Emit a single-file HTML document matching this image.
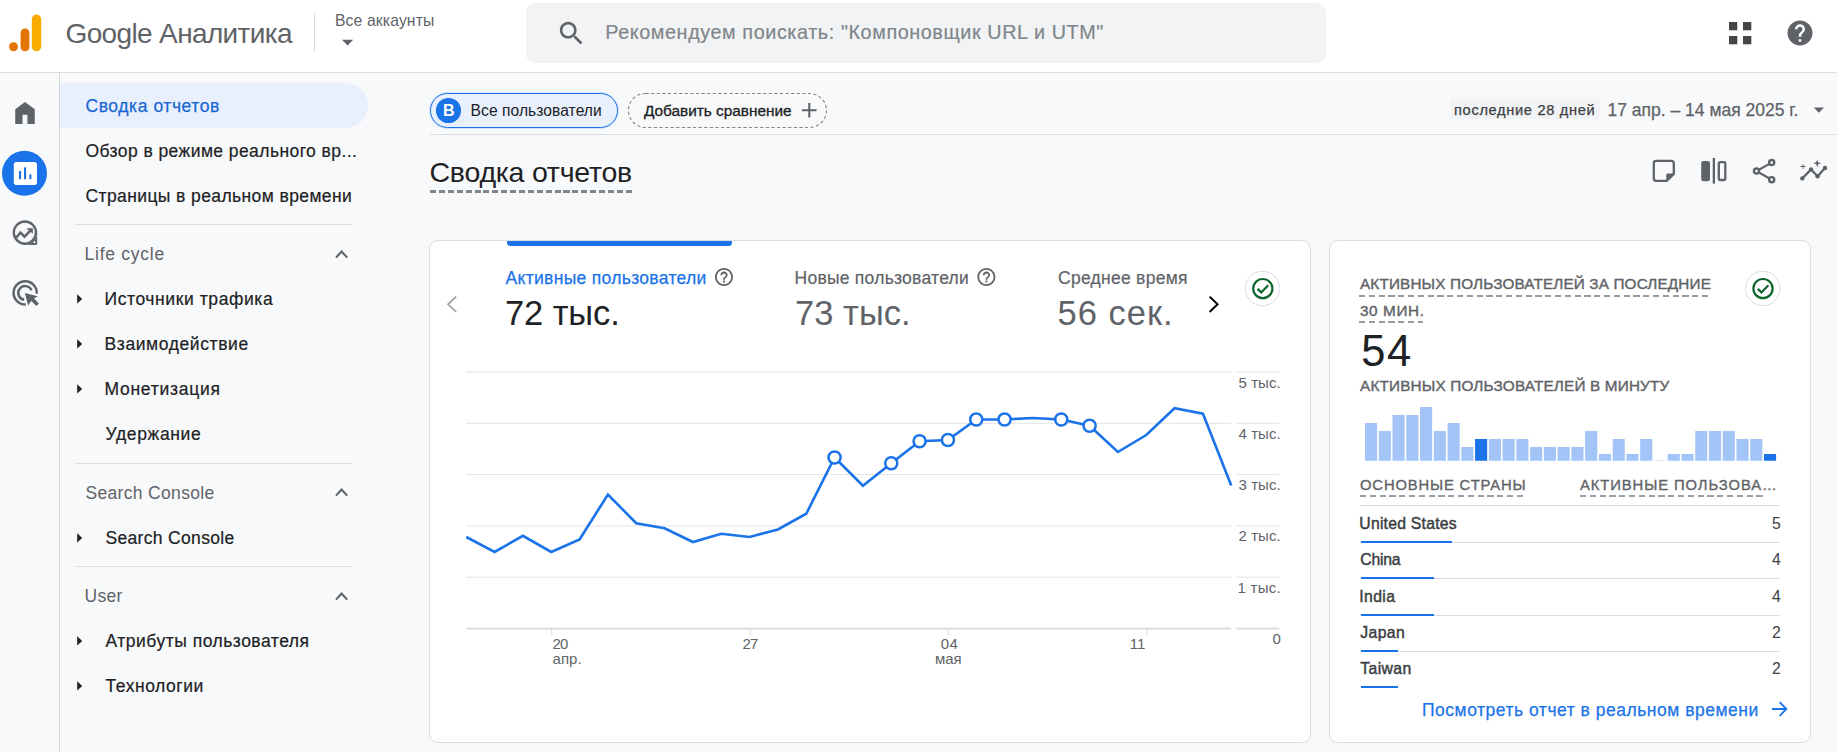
<!DOCTYPE html>
<html lang="ru"><head><meta charset="utf-8"><title>Google Аналитика</title>
<style>
html,body{margin:0;padding:0}
body{width:1837px;height:752px;overflow:hidden;background:#f8f9fa;font-family:"Liberation Sans",sans-serif;position:relative}
.abs{position:absolute}
.t{position:absolute;white-space:pre;line-height:1;font-family:"Liberation Sans",sans-serif}
.card{position:absolute;background:#fff;border:1px solid #dadce0;border-radius:9px;box-sizing:border-box}
.hl{position:absolute;height:1px;background:#dadce0}
.dash{position:absolute;height:0;border-top:1.2px dashed #80868b}
</style></head><body>
<!-- header -->
<div class="abs" style="left:0;top:0;width:1837px;height:72px;background:#fff;border-bottom:1px solid #dadce0"></div>
<!-- logo -->
<svg class="abs" style="left:0;top:0" width="60" height="72" viewBox="0 0 60 72">
<circle cx="13.5" cy="46.8" r="4.5" fill="#e37400"/>
<rect x="20.6" y="28.5" width="8.8" height="22.8" rx="4.4" fill="#e37400"/>
<rect x="31.8" y="14.5" width="9.4" height="36.8" rx="4.7" fill="#f9ab00"/>
</svg>
<div class="abs" style="left:314px;top:13px;width:1px;height:39px;background:#dadce0"></div>
<svg class="abs" style="left:341px;top:39px" width="14" height="8" viewBox="0 0 14 8"><path d="M1 0.8 L12.2 0.8 L6.6 6.4 Z" fill="#5f6368"/></svg>
<!-- search -->
<div class="abs" style="left:526px;top:3px;width:800px;height:60px;background:#f1f3f4;border-radius:9px"></div>
<svg class="abs" style="left:555.6px;top:18.1px" width="30.9" height="30.9" viewBox="0 0 24 24"><path fill="#5f6368" d="M15.5 14h-.79l-.28-.27C15.41 12.59 16 11.11 16 9.5 16 5.91 13.09 3 9.5 3S3 5.91 3 9.5 5.91 16 9.5 16c1.61 0 3.09-.59 4.23-1.57l.27.28v.79l5 4.99L20.49 19l-4.99-5zm-6 0C7.01 14 5 11.99 5 9.5S7.01 5 9.5 5 14 7.01 14 9.5 11.99 14 9.5 14z"/></svg>
<!-- apps + help -->
<svg class="abs" style="left:1729px;top:22px" width="23" height="23" viewBox="0 0 23 23"><g fill="#444746"><rect x="0" y="0" width="8.3" height="8.3"/><rect x="14" y="0" width="8.3" height="8.3"/><rect x="0" y="14" width="8.3" height="8.3"/><rect x="14" y="14" width="8.3" height="8.3"/></g></svg>
<svg class="abs" style="left:1785px;top:18px" width="30" height="30" viewBox="0 0 24 24"><path fill="#5f6368" d="M12 2C6.48 2 2 6.48 2 12s4.48 10 10 10 10-4.48 10-10S17.52 2 12 2zm1 17h-2v-2h2v2zm2.07-7.75l-.9.92C13.45 12.9 13 13.5 13 15h-2v-.5c0-1.1.45-2.1 1.17-2.83l1.24-1.26c.37-.36.59-.86.59-1.41 0-1.1-.9-2-2-2s-2 .9-2 2H8c0-2.21 1.79-4 4-4s4 1.79 4 4c0 .88-.36 1.68-.93 2.25z"/></svg>

<!-- left rail -->
<div class="abs" style="left:59px;top:73px;width:1px;height:679px;background:#d5d6d9"></div>
<svg class="abs" style="left:0;top:73px" width="59" height="679" viewBox="0 73 59 679">
<!-- home -->
<path transform="translate(10.36 98.3) scale(1.22)" fill="#5f6368" d="M4 21V9l8-6 8 6v12h-6v-7.5h-4V21z"/>
<!-- reports active -->
<circle cx="24.5" cy="173.3" r="22.5" fill="#1a73e8"/>
<rect x="13.8" y="161.9" width="23.2" height="23.2" rx="2.8" fill="#fff"/>
<rect x="19" y="171" width="2.1" height="8.2" fill="#1a73e8"/><rect x="24" y="167.4" width="2.1" height="11.8" fill="#1a73e8"/><rect x="29.3" y="174.4" width="2.1" height="4.8" fill="#1a73e8"/>
<!-- explore -->
<circle cx="24.9" cy="232.6" r="11.1" fill="none" stroke="#5f6368" stroke-width="2.4"/>
<path d="M37.2 232.6 L37.2 243.4 Q37.2 244.9 35.7 244.9 L24.9 244.9 A12.3 12.3 0 0 0 37.2 232.6 Z" fill="#5f6368"/>
<circle cx="34.5" cy="242.3" r="1.05" fill="#f8f9fa"/>
<path d="M16.4 237.4 L20.4 232.6 L24.5 236.7 L30.6 230.4" fill="none" stroke="#5f6368" stroke-width="2.4"/>
<path d="M26.3 228.2 L32.9 228.2 L32.9 233.8 Z" fill="#5f6368"/>
<!-- advertising -->
<path d="M36.75 293.6 A11.6 11.6 0 1 0 25.8 304.5" fill="none" stroke="#5f6368" stroke-width="2.4"/>
<path d="M31.55 290.3 A6.9 6.9 0 1 0 24.2 299.75" fill="none" stroke="#5f6368" stroke-width="2.4"/>
<path d="M24.9 292.9 L37.7 296.3 L34 298.5 L38.9 303.4 L36.4 306 L31.3 301 L28.1 305.4 Z" fill="#5f6368"/>
</svg>

<!-- sidebar -->
<div class="abs" style="left:60px;top:83px;width:308px;height:45px;background:#e8f0fe;border-radius:0 22.5px 22.5px 0"></div>
<div class="hl" style="left:75px;top:224px;width:277px"></div>
<div class="hl" style="left:75px;top:463px;width:277px"></div>
<div class="hl" style="left:75px;top:566px;width:277px"></div>
<svg class="abs" style="left:0;top:0" width="420" height="752" viewBox="0 0 420 752">
<g fill="none" stroke="#5f6368" stroke-width="2.1"><path d="M336 257.6 L341.6 251.6 L347.2 257.6"/><path d="M336 495.6 L341.6 489.6 L347.2 495.6"/><path d="M336 599.6 L341.6 593.6 L347.2 599.6"/></g>
<g fill="#202124"><path d="M77.2 294.2 L82.2 298.9 L77.2 303.6 Z"/><path d="M77.2 339.2 L82.2 343.9 L77.2 348.6 Z"/><path d="M77.2 384.2 L82.2 388.9 L77.2 393.6 Z"/><path d="M77.2 533.2 L82.2 537.9 L77.2 542.6 Z"/><path d="M77.2 636.2 L82.2 640.9 L77.2 645.6 Z"/><path d="M77.2 681.2 L82.2 685.9 L77.2 690.6 Z"/></g>
</svg>

<!-- chips -->
<div class="abs" style="left:430px;top:93px;width:188px;height:35px;box-sizing:border-box;border:1.2px solid #1a73e8;border-radius:17.5px;background:#e8f0fe;box-shadow:0 0 0 1px #d2e3fc"></div>
<div class="abs" style="left:436.2px;top:98.2px;width:24.6px;height:24.6px;border-radius:50%;background:#1a73e8"></div>
<span class="t" style="left:443.1px;top:102.2px;font-size:16px;line-height:18px;font-weight:700;color:#fff">B</span>
<svg class="abs" style="left:626px;top:91px" width="204" height="40" viewBox="626 91 204 40"><rect x="628.5" y="93.5" width="198" height="34" rx="17" fill="none" stroke="#80868b" stroke-width="1.1" stroke-dasharray="3.2 2.4"/></svg>
<svg class="abs" style="left:801px;top:102px" width="17" height="17" viewBox="0 0 17 17"><path d="M8.3 1 V15.6 M1 8.3 H15.6" stroke="#5f6368" stroke-width="2.1" fill="none"/></svg>
<div class="hl" style="left:430px;top:134px;width:1407px"></div>
<div class="abs" style="left:1450px;top:99px;width:150px;height:20px;background:#f1f3f4"></div>
<svg class="abs" style="left:1813px;top:106.5px" width="12" height="7" viewBox="0 0 12 7"><path d="M0.8 0.6 L11 0.6 L5.9 5.8 Z" fill="#5f6368"/></svg>
<!-- title underline -->
<div class="abs" style="left:430px;top:189.9px;width:202px;height:2.9px;background:repeating-linear-gradient(to right,#80868b 0,#80868b 6px,transparent 6px,transparent 8.9px)"></div>
<!-- toolbar icons -->
<svg class="abs" style="left:1640px;top:150px" width="197" height="45" viewBox="1640 150 197 45">
<g fill="none" stroke="#5f6368" stroke-width="2.3" stroke-linejoin="round">
<path d="M1653.8 163.2 a2.3 2.3 0 0 1 2.3 -2.3 h15.4 a2.3 2.3 0 0 1 2.3 2.3 v10.8 l-6.8 6.8 h-10.9 a2.3 2.3 0 0 1 -2.3 -2.3 z"/>
</g>
<path d="M1666.3 181.8 v-6.8 a1.4 1.4 0 0 1 1.4 -1.4 h7 z" fill="#5f6368"/>
<rect x="1701.2" y="161" width="8.8" height="20.2" rx="2.2" fill="#5f6368"/>
<rect x="1712.7" y="158" width="2.3" height="25.6" fill="#5f6368"/>
<rect x="1718.8" y="162.2" width="6.5" height="17.8" rx="1.4" fill="none" stroke="#5f6368" stroke-width="2.3"/>
<g fill="none" stroke="#5f6368" stroke-width="2.2"><path d="M1771.7 162.6 L1756.5 171.1 L1771.7 179.7"/></g>
<g fill="#f8f9fa" stroke="#5f6368" stroke-width="2.4"><circle cx="1771.7" cy="162.6" r="2.55"/><circle cx="1756.5" cy="171.1" r="2.55"/><circle cx="1771.7" cy="179.7" r="2.55"/></g>
<path d="M1802.3 178.4 L1811 169.5 L1817.6 176.2 L1825 168" fill="none" stroke="#5f6368" stroke-width="2.3" stroke-linejoin="round"/>
<g fill="#5f6368"><circle cx="1802.3" cy="178.4" r="2.2"/><circle cx="1811" cy="169.5" r="2.2"/><circle cx="1817.6" cy="176.2" r="2.2"/><circle cx="1825" cy="168" r="2.2"/>
<path d="M1802.6 164 h0.9 v2.1 h2.1 v0.9 h-2.1 v2.1 h-0.9 v-2.1 h-2.1 v-0.9 h2.1 z"/>
<path d="M1817.2 159.4 l1 2.9 l2.9 1 l-2.9 1 l-1 2.9 l-1 -2.9 l-2.9 -1 l2.9 -1 z"/></g>
</svg>

<!-- card 1 -->
<div class="card" style="left:429px;top:240px;width:882px;height:503px"></div>
<div class="abs" style="left:506.8px;top:241px;width:225.4px;height:4.6px;background:#1a73e8;border-radius:0 0 3.5px 3.5px"></div>
<svg class="abs" style="left:440px;top:260px" width="860" height="60" viewBox="440 260 860 60">
<path d="M456.2 296.6 L448 304.3 L456.2 312" fill="none" stroke="#9aa0a6" stroke-width="1.7"/>
<path d="M1209.6 296.6 L1217.6 304.3 L1209.6 312" fill="none" stroke="#000" stroke-width="2"/>
<g fill="#5f6368"><path transform="translate(713.2 266.2) scale(0.9)" d="M11 18h2v-2h-2v2zm1-16C6.48 2 2 6.48 2 12s4.48 10 10 10 10-4.48 10-10S17.52 2 12 2zm0 18c-4.41 0-8-3.59-8-8s3.59-8 8-8 8 3.59 8 8-3.59 8-8 8zm0-14c-2.21 0-4 1.79-4 4h2c0-1.1.9-2 2-2s2 .9 2 2c0 2-3 1.75-3 5h2c0-2.25 3-2.5 3-5 0-2.21-1.79-4-4-4z"/>
<path transform="translate(975.6 266.2) scale(0.9)" d="M11 18h2v-2h-2v2zm1-16C6.48 2 2 6.48 2 12s4.48 10 10 10 10-4.48 10-10S17.52 2 12 2zm0 18c-4.41 0-8-3.59-8-8s3.59-8 8-8 8 3.59 8 8-3.59 8-8 8zm0-14c-2.21 0-4 1.79-4 4h2c0-1.1.9-2 2-2s2 .9 2 2c0 2-3 1.75-3 5h2c0-2.25 3-2.5 3-5 0-2.21-1.79-4-4-4z"/></g>
<circle cx="1262.5" cy="288.5" r="17.2" fill="#fff" stroke="#dadce0" stroke-width="1"/>
<circle cx="1262.8" cy="288.6" r="9.6" fill="none" stroke="#0d652d" stroke-width="2.2"/>
<path d="M1257.6 288.9 L1261.2 292.4 L1268.2 285.2" fill="none" stroke="#0d652d" stroke-width="2.2"/>
</svg>
<svg class="abs" style="left:0;top:0" width="1837" height="752" viewBox="0 0 1837 752"><rect x="466" y="371.45" width="765.2" height="1.1" fill="#e6e6e6"/><rect x="1236.3" y="371.45" width="43" height="1.1" fill="#e6e6e6"/><rect x="466" y="422.75" width="765.2" height="1.1" fill="#e6e6e6"/><rect x="1236.3" y="422.75" width="43" height="1.1" fill="#e6e6e6"/><rect x="466" y="474.05" width="765.2" height="1.1" fill="#e6e6e6"/><rect x="1236.3" y="474.05" width="43" height="1.1" fill="#e6e6e6"/><rect x="466" y="525.35" width="765.2" height="1.1" fill="#e6e6e6"/><rect x="1236.3" y="525.35" width="43" height="1.1" fill="#e6e6e6"/><rect x="466" y="576.65" width="765.2" height="1.1" fill="#e6e6e6"/><rect x="1236.3" y="576.65" width="43" height="1.1" fill="#e6e6e6"/><rect x="466" y="627.6" width="765.2" height="2" fill="#dcdcdc"/><rect x="1236.3" y="627.6" width="43" height="2" fill="#dcdcdc"/><rect x="551.20" y="629" width="1.1" height="6.5" fill="#dcdcdc"/><rect x="749.70" y="629" width="1.1" height="6.5" fill="#dcdcdc"/><rect x="947.95" y="629" width="1.1" height="6.5" fill="#dcdcdc"/><rect x="1146.45" y="629" width="1.1" height="6.5" fill="#dcdcdc"/><polyline points="466.25,537.00 494.58,552.00 522.92,535.75 551.25,552.00 579.58,539.50 607.92,494.50 636.25,523.25 664.58,528.25 692.92,542.00 721.25,533.75 749.58,537.00 777.92,529.50 806.25,513.75 834.58,457.50 862.92,485.75 891.25,463.25 919.58,441.25 947.92,440.00 976.25,419.50 1004.58,419.50 1032.92,418.00 1061.25,419.50 1089.58,425.75 1117.92,452.00 1146.25,435.00 1174.58,408.25 1202.92,413.75 1231.25,485.50" fill="none" stroke="#1a73e8" stroke-width="2.6" stroke-linejoin="miter" stroke-linecap="butt"/><circle cx="834.58" cy="457.50" r="6.05" fill="#fff" stroke="#1a73e8" stroke-width="2.5"/><circle cx="891.25" cy="463.25" r="6.05" fill="#fff" stroke="#1a73e8" stroke-width="2.5"/><circle cx="919.58" cy="441.25" r="6.05" fill="#fff" stroke="#1a73e8" stroke-width="2.5"/><circle cx="947.92" cy="440.00" r="6.05" fill="#fff" stroke="#1a73e8" stroke-width="2.5"/><circle cx="976.25" cy="419.50" r="6.05" fill="#fff" stroke="#1a73e8" stroke-width="2.5"/><circle cx="1004.58" cy="419.50" r="6.05" fill="#fff" stroke="#1a73e8" stroke-width="2.5"/><circle cx="1061.25" cy="419.50" r="6.05" fill="#fff" stroke="#1a73e8" stroke-width="2.5"/><circle cx="1089.58" cy="425.75" r="6.05" fill="#fff" stroke="#1a73e8" stroke-width="2.5"/></svg>

<!-- card 2 -->
<div class="card" style="left:1329px;top:240px;width:482px;height:503px"></div>
<svg class="abs" style="left:1740px;top:266px" width="46" height="46" viewBox="1740 266 46 46">
<circle cx="1762.7" cy="288.5" r="17.2" fill="#fff" stroke="#dadce0" stroke-width="1"/>
<circle cx="1763" cy="288.6" r="9.6" fill="none" stroke="#0d652d" stroke-width="2.2"/>
<path d="M1757.8 288.9 L1761.4 292.4 L1768.4 285.2" fill="none" stroke="#0d652d" stroke-width="2.2"/>
</svg>
<div class="abs" style="left:1359.2px;top:294.8px;width:351.6px;height:2.2px;background:repeating-linear-gradient(to right,#969ba1 0,#969ba1 6.2px,transparent 6.2px,transparent 9.8px)"></div>
<div class="abs" style="left:1359.2px;top:320.7px;width:63.8px;height:2.2px;background:repeating-linear-gradient(to right,#969ba1 0,#969ba1 6.2px,transparent 6.2px,transparent 9.8px)"></div>
<svg class="abs" style="left:0;top:0" width="1837" height="752" viewBox="0 0 1837 752"><rect x="1365.00" y="423.00" width="12.1" height="37.75" fill="#a3c4f7"/><rect x="1378.76" y="431.00" width="12.1" height="29.75" fill="#a3c4f7"/><rect x="1392.52" y="415.00" width="12.1" height="45.75" fill="#a3c4f7"/><rect x="1406.28" y="415.00" width="12.1" height="45.75" fill="#a3c4f7"/><rect x="1420.03" y="407.00" width="12.1" height="53.75" fill="#a3c4f7"/><rect x="1433.79" y="431.00" width="12.1" height="29.75" fill="#a3c4f7"/><rect x="1447.55" y="423.00" width="12.1" height="37.75" fill="#a3c4f7"/><rect x="1461.31" y="447.00" width="12.1" height="13.75" fill="#a3c4f7"/><rect x="1475.07" y="439.00" width="12.1" height="21.75" fill="#1a73e8"/><rect x="1488.83" y="439.00" width="12.1" height="21.75" fill="#a3c4f7"/><rect x="1502.59" y="439.00" width="12.1" height="21.75" fill="#a3c4f7"/><rect x="1516.34" y="439.00" width="12.1" height="21.75" fill="#a3c4f7"/><rect x="1530.10" y="447.00" width="12.1" height="13.75" fill="#a3c4f7"/><rect x="1543.86" y="447.00" width="12.1" height="13.75" fill="#a3c4f7"/><rect x="1557.62" y="447.00" width="12.1" height="13.75" fill="#a3c4f7"/><rect x="1571.38" y="447.00" width="12.1" height="13.75" fill="#a3c4f7"/><rect x="1585.14" y="431.00" width="12.1" height="29.75" fill="#a3c4f7"/><rect x="1598.90" y="454.00" width="12.1" height="6.75" fill="#a3c4f7"/><rect x="1612.66" y="439.00" width="12.1" height="21.75" fill="#a3c4f7"/><rect x="1626.41" y="454.00" width="12.1" height="6.75" fill="#a3c4f7"/><rect x="1640.17" y="439.00" width="12.1" height="21.75" fill="#a3c4f7"/><rect x="1653.93" y="459.95" width="12.1" height="0.80" fill="#e0e0e0"/><rect x="1667.69" y="454.00" width="12.1" height="6.75" fill="#a3c4f7"/><rect x="1681.45" y="454.00" width="12.1" height="6.75" fill="#a3c4f7"/><rect x="1695.21" y="431.00" width="12.1" height="29.75" fill="#a3c4f7"/><rect x="1708.97" y="431.00" width="12.1" height="29.75" fill="#a3c4f7"/><rect x="1722.72" y="431.00" width="12.1" height="29.75" fill="#a3c4f7"/><rect x="1736.48" y="439.00" width="12.1" height="21.75" fill="#a3c4f7"/><rect x="1750.24" y="439.00" width="12.1" height="21.75" fill="#a3c4f7"/><rect x="1764.00" y="454.00" width="12.1" height="6.75" fill="#1a73e8"/></svg>
<div class="abs" style="left:1360px;top:495px;width:165px;height:2.2px;background:repeating-linear-gradient(to right,#9aa0a6 0,#9aa0a6 6.2px,transparent 6.2px,transparent 9.8px)"></div>
<div class="abs" style="left:1580px;top:495px;width:184px;height:2.2px;background:repeating-linear-gradient(to right,#9aa0a6 0,#9aa0a6 6.2px,transparent 6.2px,transparent 9.8px)"></div>
<div class="hl" style="left:1360px;top:505px;width:420px"></div>
<div class="abs" style="left:1360px;top:542px;width:420px;height:1px;background:#dadce0"></div><div class="abs" style="left:1360.8px;top:540.90px;width:91.2px;height:2.4px;background:#1a73e8"></div><div class="abs" style="left:1360px;top:578px;width:420px;height:1px;background:#dadce0"></div><div class="abs" style="left:1360.8px;top:576.90px;width:73.0px;height:2.4px;background:#1a73e8"></div><div class="abs" style="left:1360px;top:615px;width:420px;height:1px;background:#dadce0"></div><div class="abs" style="left:1360.8px;top:613.90px;width:73.0px;height:2.4px;background:#1a73e8"></div><div class="abs" style="left:1360px;top:651px;width:420px;height:1px;background:#dadce0"></div><div class="abs" style="left:1360.8px;top:649.90px;width:37.0px;height:2.4px;background:#1a73e8"></div><div class="abs" style="left:1360.8px;top:685.90px;width:37.0px;height:2.4px;background:#1a73e8"></div>
<svg class="abs" style="left:1770px;top:700px" width="20" height="18" viewBox="1770 700 20 18"><path d="M1772 709 H1786 M1779.6 702.2 L1786.4 709 L1779.6 715.8" fill="none" stroke="#1a73e8" stroke-width="1.8"/></svg>

<span class="t f" style="left:65.50px;top:18px;font-size:28.00px;line-height:31px;color:#5f6368;letter-spacing:-0.639px;">Google Аналитика</span>
<span class="t f" style="left:335.00px;top:12px;font-size:15.75px;line-height:17px;color:#5f6368;letter-spacing:0.112px;">Все аккаунты</span>
<span class="t f" style="left:605.30px;top:21px;font-size:19.80px;line-height:22px;color:#80868b;letter-spacing:0.586px;-webkit-text-stroke:0.20px #80868b;">Рекомендуем поискать: &quot;Компоновщик URL и UTM&quot;</span>
<span class="t f" style="left:85.50px;top:96px;font-size:17.50px;line-height:20px;color:#1967d2;letter-spacing:0.568px;-webkit-text-stroke:0.25px #1967d2;">Сводка отчетов</span>
<span class="t f" style="left:85.50px;top:141px;font-size:17.50px;line-height:20px;color:#202124;letter-spacing:0.424px;-webkit-text-stroke:0.20px #202124;">Обзор в режиме реального вр...</span>
<span class="t f" style="left:85.50px;top:186px;font-size:17.50px;line-height:20px;color:#202124;letter-spacing:0.397px;-webkit-text-stroke:0.20px #202124;">Страницы в реальном времени</span>
<span class="t f" style="left:84.50px;top:244px;font-size:17.50px;line-height:20px;color:#5f6368;letter-spacing:0.754px;">Life cycle</span>
<span class="t f" style="left:104.50px;top:289px;font-size:17.50px;line-height:20px;color:#202124;letter-spacing:0.591px;-webkit-text-stroke:0.20px #202124;">Источники трафика</span>
<span class="t f" style="left:104.50px;top:334px;font-size:17.50px;line-height:20px;color:#202124;letter-spacing:0.605px;-webkit-text-stroke:0.20px #202124;">Взаимодействие</span>
<span class="t f" style="left:104.50px;top:379px;font-size:17.50px;line-height:20px;color:#202124;letter-spacing:0.733px;-webkit-text-stroke:0.20px #202124;">Монетизация</span>
<span class="t f" style="left:105.50px;top:424px;font-size:17.50px;line-height:20px;color:#202124;letter-spacing:0.649px;-webkit-text-stroke:0.20px #202124;">Удержание</span>
<span class="t f" style="left:85.50px;top:483px;font-size:17.50px;line-height:20px;color:#5f6368;letter-spacing:0.324px;">Search Console</span>
<span class="t f" style="left:105.50px;top:528px;font-size:17.50px;line-height:20px;color:#202124;letter-spacing:0.324px;-webkit-text-stroke:0.20px #202124;">Search Console</span>
<span class="t f" style="left:84.50px;top:586px;font-size:17.50px;line-height:20px;color:#5f6368;letter-spacing:0.293px;">User</span>
<span class="t f" style="left:105.50px;top:631px;font-size:17.50px;line-height:20px;color:#202124;letter-spacing:0.500px;-webkit-text-stroke:0.20px #202124;">Атрибуты пользователя</span>
<span class="t f" style="left:105.50px;top:676px;font-size:17.50px;line-height:20px;color:#202124;letter-spacing:0.543px;-webkit-text-stroke:0.20px #202124;">Технологии</span>
<span class="t f" style="left:470.60px;top:102px;font-size:15.60px;line-height:17px;color:#202124;letter-spacing:0.060px;">Все пользователи</span>
<span class="t f" style="left:644.00px;top:102px;font-size:15.40px;line-height:17px;color:#202124;letter-spacing:-0.026px;-webkit-text-stroke:0.30px #202124;">Добавить сравнение</span>
<span class="t f" style="left:1454.00px;top:102px;font-size:14.60px;line-height:16px;color:#3c4043;letter-spacing:0.687px;-webkit-text-stroke:0.25px #3c4043;">последние 28 дней</span>
<span class="t f" style="left:1607.50px;top:100px;font-size:17.50px;line-height:20px;color:#5f6368;letter-spacing:-0.002px;-webkit-text-stroke:0.25px #5f6368;">17 апр. – 14 мая 2025 г.</span>
<span class="t f" style="left:429.50px;top:156px;font-size:28.50px;line-height:32px;color:#202124;letter-spacing:-0.249px;">Сводка отчетов</span>
<span class="t f" style="left:505.50px;top:268px;font-size:17.50px;line-height:20px;color:#1a73e8;letter-spacing:0.310px;-webkit-text-stroke:0.25px #1a73e8;">Активные пользователи</span>
<span class="t f" style="left:505.00px;top:294px;font-size:34.50px;line-height:38px;color:#202124;letter-spacing:-0.101px;">72 тыс.</span>
<span class="t f" style="left:794.50px;top:268px;font-size:17.50px;line-height:20px;color:#5f6368;letter-spacing:0.254px;-webkit-text-stroke:0.20px #5f6368;">Новые пользователи</span>
<span class="t f" style="left:795.00px;top:294px;font-size:34.50px;line-height:38px;color:#5f6368;letter-spacing:0.032px;">73 тыс.</span>
<span class="t f" style="left:1058.00px;top:268px;font-size:17.50px;line-height:20px;color:#5f6368;letter-spacing:0.274px;-webkit-text-stroke:0.20px #5f6368;">Среднее время</span>
<span class="t f" style="left:1057.50px;top:294px;font-size:34.50px;line-height:38px;color:#5f6368;letter-spacing:1.002px;">56 сек.</span>
<span class="t f" style="left:1238.50px;top:374px;font-size:15.00px;line-height:17px;color:#5f6368;letter-spacing:0.068px;">5 тыс.</span>
<span class="t f" style="left:1238.50px;top:425px;font-size:15.00px;line-height:17px;color:#5f6368;letter-spacing:0.068px;">4 тыс.</span>
<span class="t f" style="left:1238.50px;top:476px;font-size:15.00px;line-height:17px;color:#5f6368;letter-spacing:0.068px;">3 тыс.</span>
<span class="t f" style="left:1238.50px;top:527px;font-size:15.00px;line-height:17px;color:#5f6368;letter-spacing:0.068px;">2 тыс.</span>
<span class="t f" style="left:1237.50px;top:579px;font-size:15.00px;line-height:17px;color:#5f6368;letter-spacing:0.268px;">1 тыс.</span>
<span class="t f" style="left:1272.50px;top:630px;font-size:15.00px;line-height:17px;color:#5f6368;letter-spacing:0.000px;">0</span>
<span class="t f" style="left:552.50px;top:635px;font-size:15.00px;line-height:17px;color:#5f6368;letter-spacing:-0.842px;">20</span>
<span class="t f" style="left:552.50px;top:650px;font-size:15.00px;line-height:17px;color:#5f6368;letter-spacing:0.064px;">апр.</span>
<span class="t f" style="left:742.50px;top:635px;font-size:15.00px;line-height:17px;color:#5f6368;letter-spacing:-0.842px;">27</span>
<span class="t f" style="left:940.75px;top:635px;font-size:15.00px;line-height:17px;color:#5f6368;letter-spacing:0.408px;">04</span>
<span class="t f" style="left:935.00px;top:650px;font-size:15.00px;line-height:17px;color:#5f6368;letter-spacing:-0.027px;">мая</span>
<span class="t f" style="left:1129.75px;top:635px;font-size:15.00px;line-height:17px;color:#5f6368;letter-spacing:0.021px;">11</span>
<span class="t f" style="left:1360.00px;top:275px;font-size:15.30px;line-height:17px;color:#5f6368;letter-spacing:0.144px;-webkit-text-stroke:0.40px #5f6368;">АКТИВНЫХ ПОЛЬЗОВАТЕЛЕЙ ЗА ПОСЛЕДНИЕ</span>
<span class="t f" style="left:1360.00px;top:302px;font-size:15.30px;line-height:17px;color:#5f6368;letter-spacing:0.609px;-webkit-text-stroke:0.40px #5f6368;">30 МИН.</span>
<span class="t f" style="left:1361.30px;top:327px;font-size:43.50px;line-height:48px;color:#202124;letter-spacing:1.507px;">54</span>
<span class="t f" style="left:1360.00px;top:377px;font-size:15.30px;line-height:17px;color:#5f6368;letter-spacing:0.173px;-webkit-text-stroke:0.40px #5f6368;">АКТИВНЫХ ПОЛЬЗОВАТЕЛЕЙ В МИНУТУ</span>
<span class="t f" style="left:1360.00px;top:477px;font-size:14.80px;line-height:16px;color:#5f6368;letter-spacing:0.843px;-webkit-text-stroke:0.35px #5f6368;">ОСНОВНЫЕ СТРАНЫ</span>
<span class="t f" style="left:1580.00px;top:477px;font-size:14.80px;line-height:16px;color:#5f6368;letter-spacing:0.908px;-webkit-text-stroke:0.35px #5f6368;">АКТИВНЫЕ ПОЛЬЗОВА…</span>
<span class="t f" style="left:1359.30px;top:515px;font-size:15.75px;line-height:17px;color:#3c4043;letter-spacing:0.231px;-webkit-text-stroke:0.45px #3c4043;">United States</span>
<span class="t f" style="left:1772.00px;top:515px;font-size:15.75px;line-height:17px;color:#3c4043;letter-spacing:0.000px;">5</span>
<span class="t f" style="left:1360.30px;top:551px;font-size:15.75px;line-height:17px;color:#3c4043;letter-spacing:-0.236px;-webkit-text-stroke:0.45px #3c4043;">China</span>
<span class="t f" style="left:1772.00px;top:551px;font-size:15.75px;line-height:17px;color:#3c4043;letter-spacing:0.000px;">4</span>
<span class="t f" style="left:1359.30px;top:588px;font-size:15.75px;line-height:17px;color:#3c4043;letter-spacing:0.389px;-webkit-text-stroke:0.45px #3c4043;">India</span>
<span class="t f" style="left:1772.00px;top:588px;font-size:15.75px;line-height:17px;color:#3c4043;letter-spacing:0.000px;">4</span>
<span class="t f" style="left:1360.30px;top:624px;font-size:15.75px;line-height:17px;color:#3c4043;letter-spacing:0.387px;-webkit-text-stroke:0.45px #3c4043;">Japan</span>
<span class="t f" style="left:1772.00px;top:624px;font-size:15.75px;line-height:17px;color:#3c4043;letter-spacing:0.000px;">2</span>
<span class="t f" style="left:1360.30px;top:660px;font-size:15.75px;line-height:17px;color:#3c4043;letter-spacing:0.387px;-webkit-text-stroke:0.45px #3c4043;">Taiwan</span>
<span class="t f" style="left:1772.00px;top:660px;font-size:15.75px;line-height:17px;color:#3c4043;letter-spacing:0.000px;">2</span>
<span class="t f" style="left:1422.00px;top:700px;font-size:17.50px;line-height:20px;color:#1a73e8;letter-spacing:0.514px;-webkit-text-stroke:0.25px #1a73e8;">Посмотреть отчет в реальном времени</span>
</body></html>
